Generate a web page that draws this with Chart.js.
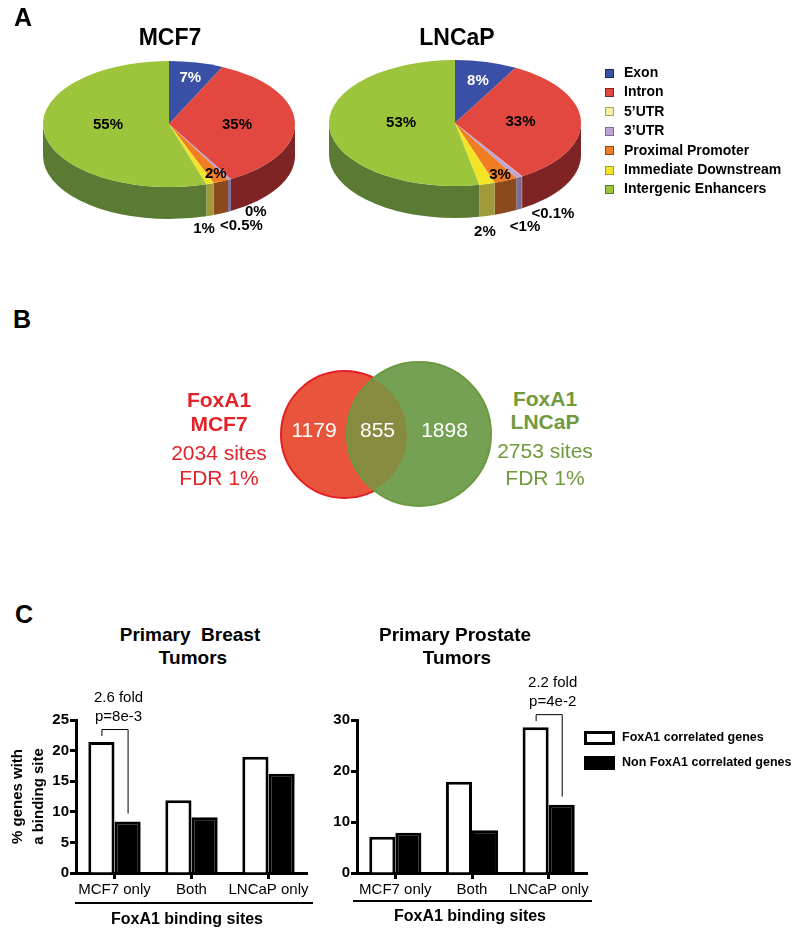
<!DOCTYPE html>
<html>
<head>
<meta charset="utf-8">
<script src="https://cdn.jsdelivr.net/npm/chart.js@4"></script>
<style>
  body { margin: 0; background: #fff; }
  #fig { position: relative; width: 800px; height: 933px; overflow: hidden; font-family: "Liberation Sans", Arial, sans-serif; color: #000; background: #fff; }
  #fig canvas { position: absolute; }
  .t { position: absolute; white-space: pre; line-height: 1; transform: translate(-50%, -50%); }
  .tl { position: absolute; white-space: pre; line-height: 1; transform: translate(0, -50%); }
  .rule { position: absolute; height: 2px; background: #000; }
  .sw { position: absolute; box-sizing: border-box; }
</style>
</head>
<body>
<div id="fig">
  <canvas id="pieMCF7" width="300" height="252" style="left:0;top:-2px"></canvas>
  <canvas id="pieLNCaP" width="320" height="252" style="left:300px;top:-3px"></canvas>
  <canvas id="venn" width="270" height="190" style="left:240px;top:340px"></canvas>
  <canvas id="barBreast" width="330" height="223" style="left:0;top:680px"></canvas>
  <canvas id="barProstate" width="302" height="243" style="left:300px;top:660px"></canvas>
</div>
<script>
// panel A: genomic distribution of binding sites
const regions = ['Exon', 'Intron', '5’UTR', '3’UTR', 'Proximal Promoter', 'Immediate Downstream', 'Intergenic Enhancers'];
const mcf7Share = [7, 35, 0, 0.4, 2, 1, 55];
const mcf7Text = ['7%', '35%', '0%', '<0.5%', '2%', '1%', '55%'];
const lncapShare = [8, 33, 0.05, 0.8, 3, 2, 53];
const lncapText = ['8%', '33%', '<0.1%', '<1%', '3%', '2%', '53%'];

// panel B: overlap of binding sites
const vennNames = ['MCF7', 'LNCaP'];
const vennCounts = [1179, 855, 1898]; // MCF7 only, both, LNCaP only
const vennFdr = 'FDR 1%';

// panel C: % genes with a binding site
const siteGroups = ['MCF7 only', 'Both', 'LNCaP only'];
const geneSeries = ['FoxA1 correlated genes', 'Non FoxA1 correlated genes'];
const breastCorr = [21.4, 11.9, 19.0];
const breastNonCorr = [8.4, 9.1, 16.2];
const prostateCorr = [7.1, 17.9, 28.6];
const prostateNonCorr = [7.9, 8.4, 13.4];
const breastTicks = [0, 5, 10, 15, 20, 25];
const prostateTicks = [0, 10, 20, 30];
const breastNote = ['2.6 fold', 'p=8e-3'];
const prostateNote = ['2.2 fold', 'p=4e-2'];

const FONT = '"Liberation Sans", Arial, sans-serif';
Chart.defaults.font.family = FONT;
Chart.defaults.color = '#000';

const topColors = ['#3a4fa6', '#e2483f', '#f7f2a0', '#bca4d6', '#f07d22', '#f2e528', '#9dc53b'];
const sideColors = ['#1f2a60', '#7e2424', '#a7a36a', '#7d6b97', '#8a4a1e', '#a09b3a', '#5b7b35'];
const pieTextColors = ['#fff', '#000', '#000', '#000', '#000', '#000', '#000'];

const fig = document.getElementById('fig');
function addText(text, x, y, css, cls) {
  const d = document.createElement('div');
  d.className = cls || 't';
  d.textContent = text;
  d.style.cssText = 'left:' + x + 'px;top:' + y + 'px;' + (css || '');
  fig.appendChild(d);
  return d;
}

// squashed pie with a side wall
const pie3d = {
  id: 'pie3d',
  beforeDatasetsDraw(chart, args, o) {
    const ctx = chart.ctx;
    const arcs = chart.getDatasetMeta(0).data;
    const { x: cx, y: cy, outerRadius: r } = arcs[0];
    const ry = r * o.tilt;
    arcs.forEach((a, i) => {
      const s = Math.max(a.startAngle, 0), e = Math.min(a.endAngle, Math.PI);
      if (e <= s) return;
      ctx.beginPath();
      ctx.ellipse(cx, cy, r, ry, 0, s, e);
      ctx.ellipse(cx, cy + o.depth, r, ry, 0, e, s, true);
      ctx.closePath();
      ctx.fillStyle = o.sides[i];
      ctx.fill();
    });
    ctx.save();
    ctx.translate(cx, cy);
    ctx.scale(1, o.tilt);
    ctx.translate(-cx, -cy);
  },
  afterDatasetsDraw(chart, args, o) {
    const ctx = chart.ctx;
    ctx.restore();
    const arcs = chart.getDatasetMeta(0).data;
    const { x: cx, y: cy, outerRadius: r } = arcs[0];
    const ry = r * o.tilt;
    ctx.save();
    ctx.font = 'bold 15px ' + FONT;
    ctx.textAlign = 'center';
    ctx.textBaseline = 'middle';
    arcs.forEach((a, i) => {
      const p = o.place[i];
      const m = (a.startAngle + a.endAngle) / 2;
      const x = cx + r * p[0] * Math.cos(m) + p[1];
      const y = cy + ry * p[0] * Math.sin(m) + p[2] + (p[3] ? o.depth : 0);
      ctx.fillStyle = o.textColors[i];
      ctx.fillText(o.text[i], x, y);
    });
    ctx.restore();
  }
};

function makePie(id, values, text, padding, place) {
  return new Chart(document.getElementById(id), {
    type: 'pie',
    data: { labels: regions, datasets: [{ data: values, backgroundColor: topColors, borderWidth: 0 }] },
    options: {
      responsive: false, animation: false, events: [],
      layout: { padding },
      plugins: {
        legend: { display: false }, tooltip: { enabled: false },
        pie3d: { tilt: 0.5, depth: 32, sides: sideColors, textColors: pieTextColors, text, place }
      }
    },
    plugins: [pie3d]
  });
}

makePie('pieMCF7', mcf7Share, mcf7Text, { left: 43, right: 5, top: 0, bottom: 0 },
  [[0.78, 0, 2], [0.54, 0, 2], [1, 25, 1, 1], [1, 12, 15, 1], [0.9, 0, -2], [1, -6, 13, 1], [0.49, 0, -4]]);
makePie('pieLNCaP', lncapShare, lncapText, { left: 29, right: 39, top: 0, bottom: 0 },
  [[0.73, 0, 2], [0.52, 0, 0], [1, 31, 5, 1], [1, 6, 18, 1], [0.87, 1, 2], [1, -2, 16, 1], [0.43, 0, -3]]);

addText('A', 23, 17, 'font-size:25px;font-weight:bold;');
addText('MCF7', 170, 37, 'font-size:23px;font-weight:bold;');
addText('LNCaP', 457, 37, 'font-size:23px;font-weight:bold;');
regions.forEach((name, i) => {
  const y = 72 + 19.4 * i;
  const sw = document.createElement('div');
  sw.className = 'sw';
  sw.style.cssText = 'left:605px;top:' + (y - 3.5) + 'px;width:9px;height:9px;background:' + topColors[i] + ';border:1px solid ' + sideColors[i] + ';';
  fig.appendChild(sw);
  addText(name, 624, y, 'font-size:14px;font-weight:bold;', 'tl');
});

// panel B
const vennRed = '#e8553c', vennGreen = '#74a153';
const vennPaint = {
  id: 'vennPaint',
  afterDatasetsDraw(chart, args, o) {
    const ctx = chart.ctx;
    const [a, b] = chart.getDatasetMeta(0).data;
    const ra = a.options.radius, rb = b.options.radius;
    ctx.save();
    ctx.beginPath();
    ctx.arc(a.x, a.y, ra - 1, 0, 2 * Math.PI);
    ctx.clip();
    ctx.beginPath();
    ctx.arc(b.x, b.y, rb - 1, 0, 2 * Math.PI);
    ctx.fillStyle = o.overlap;
    ctx.fill();
    ctx.restore();
    const xs = [(a.x - ra + b.x - rb) / 2, (b.x - rb + a.x + ra) / 2, (a.x + ra + b.x + rb) / 2 - 5];
    ctx.save();
    ctx.fillStyle = '#fff';
    ctx.font = '21px ' + FONT;
    ctx.textAlign = 'center';
    ctx.textBaseline = 'middle';
    o.counts.forEach((c, i) => ctx.fillText(String(c), xs[i], a.y - 3));
    ctx.restore();
  }
};
// circle centres in pixels relative to the canvas centre
const vennLayout = { centers: [[-30.5, 0.5], [44, 1]], radii: [63.5, 72] };
new Chart(document.getElementById('venn'), {
  type: 'scatter',
  data: {
    datasets: [{
      data: vennLayout.centers.map(c => ({ x: c[0], y: c[1] })),
      pointRadius: vennLayout.radii,
      pointBackgroundColor: [vennRed, vennGreen],
      pointBorderColor: ['#e31e24', '#6b9a3e'],
      pointBorderWidth: 2,
      clip: false
    }]
  },
  options: {
    responsive: false, animation: false, events: [],
    layout: { padding: 0, autoPadding: false },
    scales: {
      x: { type: 'linear', min: -135, max: 135, display: false },
      y: { type: 'linear', min: -95, max: 95, display: false }
    },
    plugins: { legend: { display: false }, tooltip: { enabled: false }, vennPaint: { overlap: '#878b40', counts: vennCounts } }
  },
  plugins: [vennPaint]
});

addText('B', 22, 319, 'font-size:25px;font-weight:bold;');
const leftCol = '#e2232a', rightCol = '#6f9a3d';
addText('FoxA1', 219, 399, 'font-size:21px;font-weight:bold;color:' + leftCol);
addText(vennNames[0], 219, 423, 'font-size:21px;font-weight:bold;color:' + leftCol);
addText((vennCounts[0] + vennCounts[1]) + ' sites', 219, 452, 'font-size:21px;color:' + leftCol);
addText(vennFdr, 219, 477, 'font-size:21px;color:' + leftCol);
addText('FoxA1', 545, 398, 'font-size:21px;font-weight:bold;color:' + rightCol);
addText(vennNames[1], 545, 421, 'font-size:21px;font-weight:bold;color:' + rightCol);
addText((vennCounts[1] + vennCounts[2]) + ' sites', 545, 450, 'font-size:21px;color:' + rightCol);
addText(vennFdr, 545, 477, 'font-size:21px;color:' + rightCol);

// panel C
const bracket = {
  id: 'bracket',
  afterDatasetsDraw(chart, args, o) {
    const ctx = chart.ctx;
    const w = chart.getDatasetMeta(0).data[o.group];
    const k = chart.getDatasetMeta(1).data[o.group];
    const top = Math.min(w.y, k.y) - 13;
    ctx.save();
    ctx.strokeStyle = '#000';
    ctx.lineWidth = 1;
    ctx.beginPath();
    ctx.moveTo(w.x + 0.5, w.y - 6);
    ctx.lineTo(w.x + 0.5, top + 0.5);
    ctx.lineTo(k.x + 0.5, top + 0.5);
    ctx.lineTo(k.x + 0.5, k.y - 8);
    ctx.stroke();
    ctx.fillStyle = '#000';
    ctx.font = '15px ' + FONT;
    ctx.textAlign = 'center';
    ctx.textBaseline = 'middle';
    const cx = (w.x + k.x) / 2 + 4;
    ctx.fillText(o.text[0], cx, top - 31);
    ctx.fillText(o.text[1], cx, top - 12);
    ctx.restore();
  }
};

function makeBars(id, corr, nonCorr, ticks, note, noteGroup, yWidth, padding, withTitle) {
  const axisGrid = { offset: false, drawOnChartArea: false, drawTicks: true, tickLength: 6, tickWidth: 3, tickColor: '#000', color: '#000' };
  return new Chart(document.getElementById(id), {
    type: 'bar',
    data: {
      labels: siteGroups,
      datasets: [
        { label: geneSeries[0], data: corr, backgroundColor: '#fff', borderColor: '#000', borderWidth: 3, barPercentage: 1, categoryPercentage: 0.68 },
        { label: geneSeries[1], data: nonCorr, backgroundColor: '#000', borderColor: '#000', borderWidth: 3, barPercentage: 1, categoryPercentage: 0.68 }
      ]
    },
    options: {
      responsive: false, animation: false, events: [],
      layout: { padding },
      plugins: { legend: { display: false }, tooltip: { enabled: false }, bracket: { group: noteGroup, text: note } },
      scales: {
        x: {
          grid: axisGrid,
          border: { display: true, width: 3, color: '#000' },
          ticks: { color: '#000', font: { size: 15 }, padding: 2, maxRotation: 0, autoSkip: false },
          afterFit: s => { s.height = 30; }
        },
        y: {
          min: ticks[0], max: ticks[ticks.length - 1],
          afterBuildTicks: s => { s.ticks = ticks.map(v => ({ value: v })); },
          grid: axisGrid,
          border: { display: true, width: 3, color: '#000' },
          ticks: { color: '#000', font: { size: 15, weight: 'bold' }, padding: 1 },
          title: withTitle
            ? { display: true, text: ['% genes with', 'a binding site'], font: { size: 15, weight: 'bold', lineHeight: 1.4 }, padding: { top: 7, bottom: 0 }, color: '#000' }
            : { display: false },
          afterFit: s => { s.width = yWidth; }
        }
      }
    },
    plugins: [bracket]
  });
}

makeBars('barBreast', breastCorr, breastNonCorr, breastTicks, breastNote, siteGroups.indexOf('MCF7 only'), 76, { top: 40, right: 23, left: 0, bottom: 0 }, true);
makeBars('barProstate', prostateCorr, prostateNonCorr, prostateTicks, prostateNote, siteGroups.indexOf('LNCaP only'), 57, { top: 60, right: 15, left: 0, bottom: 0 }, false);

addText('C', 24, 614, 'font-size:25px;font-weight:bold;');
addText('Primary  Breast', 190, 634, 'font-size:19px;font-weight:bold;');
addText('Tumors', 193, 657, 'font-size:19px;font-weight:bold;');
addText('Primary Prostate', 455, 634, 'font-size:19px;font-weight:bold;');
addText('Tumors', 457, 657, 'font-size:19px;font-weight:bold;');

function rule(x1, x2, y) {
  const d = document.createElement('div');
  d.className = 'rule';
  d.style.left = x1 + 'px';
  d.style.width = (x2 - x1) + 'px';
  d.style.top = (y - 1) + 'px';
  fig.appendChild(d);
}
rule(75, 313, 903);
addText('FoxA1 binding sites', 187, 919, 'font-size:16px;font-weight:bold;');
rule(353, 592, 901);
addText('FoxA1 binding sites', 470, 916, 'font-size:16px;font-weight:bold;');

// series legend
const legendFill = ['#fff', '#000'];
geneSeries.forEach((name, i) => {
  const y = 738 + 24.5 * i;
  const sw = document.createElement('div');
  sw.className = 'sw';
  sw.style.cssText = 'left:584px;top:' + (y - 7) + 'px;width:31px;height:14px;background:' + legendFill[i] + ';border:3px solid #000;';
  fig.appendChild(sw);
  addText(name, 622, y - 1, 'font-size:12.5px;font-weight:bold;', 'tl');
});
</script>
</body>
</html>
